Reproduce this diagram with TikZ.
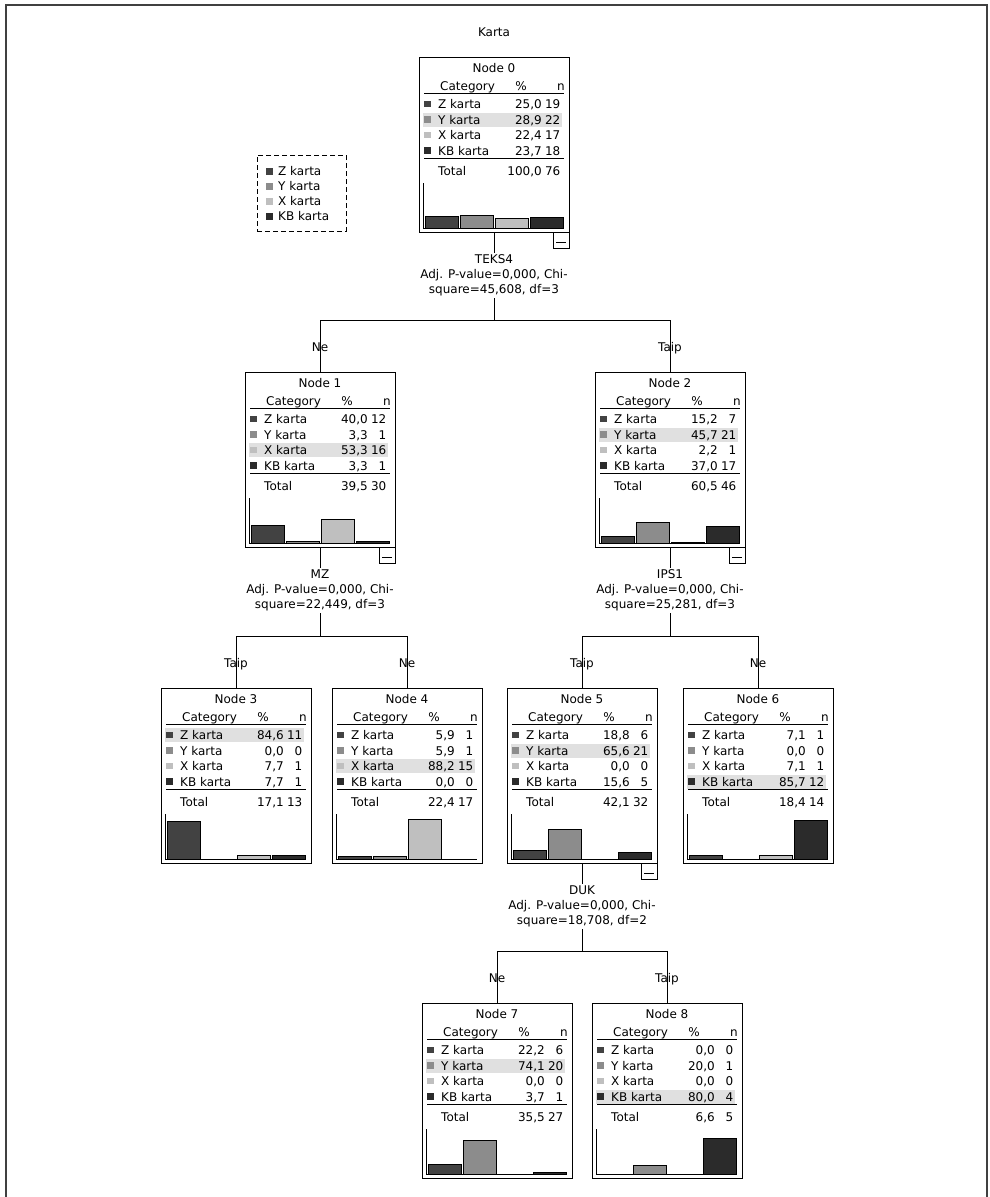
\documentclass[tikz,border=0pt]{standalone}
\usepackage{fontspec}
\setsansfont{DejaVu Sans}
\usetikzlibrary{positioning}
\usepackage{xcolor}

\colorlet{cat1}{black!74}
\colorlet{cat2}{black!45}
\colorlet{cat3}{black!25}
\colorlet{cat4}{black!83}
\colorlet{hilite}{black!12}

\newcommand\catname[1]{\ifcase#1\or Z karta\or Y karta\or X karta\or KB karta\fi}

% #1 name, #2 number, #3 top centre, #4 highlighted row,
% #5 rows {pct}/n, #6 total pct, #7 total n
\newcommand\ctbox[7]{%
  \node[treebox] (#1) at #3 {};
  \begin{scope}[shift={(#1.north west)}]
    \node[cell, anchor=base] (#1-title) at (75,15) {Node #2};
    \node[cell, anchor=base west] (#1-cat) at (21,33.4) {Category};
    \node[cell, anchor=base] (#1-pct) at (102,33.4) {\%};
    \node[cell, anchor=base east] (#1-n) at (146,33.4) {n};
    \draw[rule] (5,36) -- (145,36);
    \foreach \p/\n [count=\i] in {#5} {
      \pgfmathsetmacro\ry{31.5+15.6*\i}
      \ifnum\i=#4 \fill[hilite] (4,\ry-7) rectangle (143,\ry+7); \fi
      \fill[cat\i] (5,\ry-3.5) rectangle (12,\ry+3);
      \node[cell, anchor=base west] (#1-lab\i) at (19,\ry+4.4) {\catname{\i}};
      \node[cell, anchor=base east] (#1-p\i) at (123,\ry+4.4) {\p};
      \node[cell, anchor=base east] (#1-n\i) at (141.5,\ry+4.4) {\n};
      \ifnum\n>0
        \pgfmathsetmacro\bh{45*\n/#7}
        \draw[bar, fill=cat\i] ({6+35*(\i-1)},171) rectangle ++(33,-\bh);
      \fi
    }
    \draw[rule] (5,101.5) -- (145,101.5);
    \node[cell, anchor=base west] (#1-tot) at (19,118) {Total};
    \node[cell, anchor=base east] (#1-totp) at (123,118) {#6};
    \node[cell, anchor=base east] (#1-totn) at (141.5,118) {#7};
    \draw[axis] (4,126) -- (4,171) -- (145,171);
  \end{scope}
}

\begin{document}
\begin{tikzpicture}[
  x=1pt, y=-1pt,
  every node/.style={font=\sffamily\fontsize{12}{15}\selectfont},
  treebox/.style={draw, line width=1pt, minimum width=150pt, minimum height=175pt,
                  anchor=north, inner sep=0pt, outer sep=0pt},
  cell/.style={inner sep=0pt},
  rule/.style={line width=1pt},
  axis/.style={line width=1pt},
  bar/.style={line width=0.7pt},
  link/.style={line width=1pt},
  split/.style={align=center, inner sep=2pt},
  edgelab/.style={inner sep=0pt, text height=8.75pt, text depth=0pt},
  collapse/.style={draw, line width=1pt, minimum size=16pt, inner sep=0pt, outer sep=0pt,
                   anchor=north east,
                   path picture={\draw[line width=1pt]
                     ([shift={(-5pt,-2.5pt)}]path picture bounding box.center) --
                     ([shift={(5pt,-2.5pt)}]path picture bounding box.center);}},
  legendbox/.style={draw, dashed, dash pattern=on 5pt off 3pt, line width=1pt,
                    minimum width=89pt, minimum height=76pt, inner sep=0pt},
]
\useasboundingbox (0,0) rectangle (989,1197);
% ---- outer frame and title ----
\draw[line width=1.4pt, black!75] (6,1197) -- (6,5) -- (987,5) -- (987,1197);
\node (title) at (494,32) {Karta};
% ---- legend ----
\node[legendbox] (legend) at (301.5,193) {};
\foreach \i in {1,...,4} {
  \fill[cat\i] (266,{156.5+15*\i-3.5}) rectangle (273,{156.5+15*\i+3});
  \node[cell, anchor=base west] (leg\i) at (278,{160.9+15*\i}) {\catname{\i}};
}
% ---- tree nodes ----
\ctbox{node0}{0}{(494,57)}{2}{{25,0}/19,{28,9}/22,{22,4}/17,{23,7}/18}{100,0}{76}
\ctbox{node1}{1}{(320,372)}{3}{{40,0}/12,{3,3}/1,{53,3}/16,{3,3}/1}{39,5}{30}
\ctbox{node2}{2}{(670,372)}{2}{{15,2}/7,{45,7}/21,{2,2}/1,{37,0}/17}{60,5}{46}
\ctbox{node3}{3}{(236,688)}{1}{{84,6}/11,{0,0}/0,{7,7}/1,{7,7}/1}{17,1}{13}
\ctbox{node4}{4}{(407,688)}{3}{{5,9}/1,{5,9}/1,{88,2}/15,{0,0}/0}{22,4}{17}
\ctbox{node5}{5}{(582,688)}{2}{{18,8}/6,{65,6}/21,{0,0}/0,{15,6}/5}{42,1}{32}
\ctbox{node6}{6}{(758,688)}{4}{{7,1}/1,{0,0}/0,{7,1}/1,{85,7}/12}{18,4}{14}
\ctbox{node7}{7}{(497,1003)}{2}{{22,2}/6,{74,1}/20,{0,0}/0,{3,7}/1}{35,5}{27}
\ctbox{node8}{8}{(667,1003)}{4}{{0,0}/0,{20,0}/1,{0,0}/0,{80,0}/4}{6,6}{5}
% ---- collapse buttons ----
\node[collapse] (minus0) at (node0.south east) {};
\node[collapse] (minus1) at (node1.south east) {};
\node[collapse] (minus2) at (node2.south east) {};
\node[collapse] (minus5) at (node5.south east) {};
% ---- split statistics ----
\node[split, below=20.5pt of node0] (split0) {TEKS4\\Adj. P-value=0,000, Chi-\\square=45,608, df=3};
\node[split, below=20.5pt of node1] (split1) {MZ\\Adj. P-value=0,000, Chi-\\square=22,449, df=3};
\node[split, below=20.5pt of node2] (split2) {IPS1\\Adj. P-value=0,000, Chi-\\square=25,281, df=3};
\node[split, below=20.5pt of node5] (split5) {DUK\\Adj. P-value=0,000, Chi-\\square=18,708, df=2};
\draw[link] (node0.south) -- (split0.north);
\draw[link] (node1.south) -- (split1.north);
\draw[link] (node2.south) -- (split2.north);
\draw[link] (node5.south) -- (split5.north);
% ---- branches ----
\draw[link] (node1.north) -- ++(0,-52) coordinate (fork0) -| (node2.north);
\draw[link] (node3.north) -- ++(0,-52) coordinate (fork1) -| (node4.north);
\draw[link] (node5.north) -- ++(0,-52) coordinate (fork2) -| (node6.north);
\draw[link] (node7.north) -- ++(0,-52) coordinate (fork5) -| (node8.north);
\draw[link] (split0.south) -- (split0.south |- fork0);
\draw[link] (split1.south) -- (split1.south |- fork1);
\draw[link] (split2.south) -- (split2.south |- fork2);
\draw[link] (split5.south) -- (split5.south |- fork5);
\node[edgelab, above=20.6pt of node1] (br1) {Ne};
\node[edgelab, above=20.6pt of node2] (br2) {Taip};
\node[edgelab, above=20.6pt of node3] (br3) {Taip};
\node[edgelab, above=20.6pt of node4] (br4) {Ne};
\node[edgelab, above=20.6pt of node5] (br5) {Taip};
\node[edgelab, above=20.6pt of node6] (br6) {Ne};
\node[edgelab, above=20.6pt of node7] (br7) {Ne};
\node[edgelab, above=20.6pt of node8] (br8) {Taip};
\end{tikzpicture}
\end{document}
